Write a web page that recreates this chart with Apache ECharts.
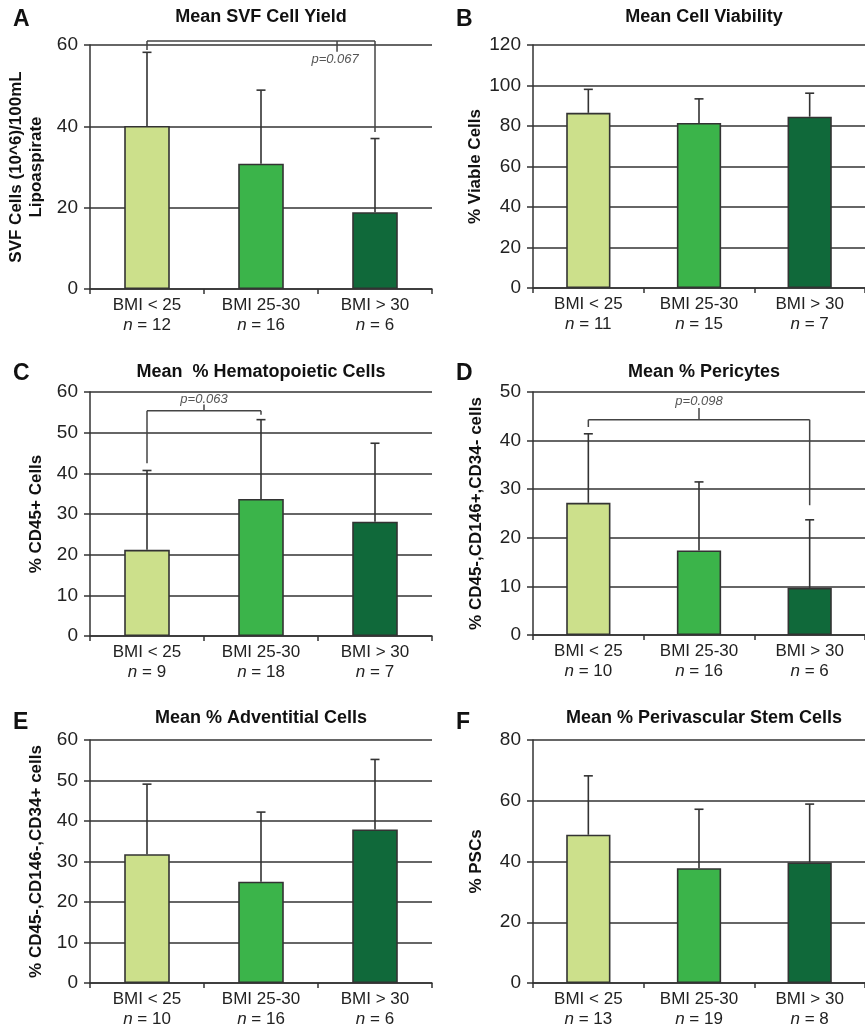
<!DOCTYPE html>
<html>
<head>
<meta charset="utf-8">
<script src="https://cdn.jsdelivr.net/npm/echarts@6/dist/echarts.min.js"></script>
<style>html,body{margin:0;padding:0;background:#fff}#c{width:865px;height:1031px}</style>
</head>
<body>
<div id="c"></div>
<script>
// ---- data ----
const categories = ['BMI < 25', 'BMI 25-30', 'BMI > 30'];
const barColors = ['#cce08b', '#3bb44a', '#10693a'];

const svfMean = [40.1, 30.8, 18.9];
const svfUpper = [58.2, 48.9, 37.0];
const svfN = [12, 16, 6];

const viabMean = [86.5, 81.5, 84.6];
const viabUpper = [98.1, 93.4, 96.2];
const viabN = [11, 15, 7];

const hemMean = [21.2, 33.7, 28.1];
const hemUpper = [40.7, 53.2, 47.4];
const hemN = [9, 18, 7];

const periMean = [27.2, 17.4, 9.7];
const periUpper = [41.4, 31.5, 23.7];
const periN = [10, 16, 6];

const advMean = [31.8, 25.0, 37.9];
const advUpper = [49.1, 42.2, 55.2];
const advN = [10, 16, 6];

const pscMean = [48.8, 37.8, 39.7];
const pscUpper = [68.2, 57.2, 58.9];
const pscN = [13, 19, 8];

// significance brackets: segments [x1, y1, x2, y2] in axis units
const bracketA = [[0, 58.8, 0, 61], [0, 61, 2, 61], [2, 61, 2, 38.6], [1.667, 61, 1.667, 58.35]];
const pLabelA = ['p=0.067', 1.65, 56.4];
const bracketC = [[0, 42.5, 0, 55.4], [0, 55.4, 1, 55.4], [1, 55.4, 1, 54.4], [0.5, 55.4, 0.5, 56.9]];
const pLabelC = ['p=0.063', 0.5, 58.3];
const bracketD = [[0, 42.8, 0, 44.3], [0, 44.3, 2, 44.3], [2, 44.3, 2, 26.7], [1, 44.3, 1, 46.7]];
const pLabelD = ['p=0.098', 1, 48.1];

// ---- layout ----
const FONT = "'Liberation Sans', Arial, Helvetica, sans-serif";
const panels = [
  {letter: 'A', title: 'Mean SVF Cell Yield', yName: 'SVF Cells (10^6)/100mL\nLipoaspirate', mean: svfMean, upper: svfUpper, n: svfN, max: 60, interval: 20, left: 90, top: 45, height: 244, nameGap: 44, bracket: bracketA, pl: pLabelA, ty: 17, ly: 20},
  {letter: 'B', title: 'Mean Cell Viability', yName: '% Viable Cells', mean: viabMean, upper: viabUpper, n: viabN, max: 120, interval: 20, left: 533, top: 45, height: 243, nameGap: 47, ty: 17, ly: 20},
  {letter: 'C', title: 'Mean  % Hematopoietic Cells', yName: '% CD45+ Cells', mean: hemMean, upper: hemUpper, n: hemN, max: 60, interval: 10, left: 90, top: 392, height: 244, nameGap: 44, bracket: bracketC, pl: pLabelC, ty: 372, ly: 374},
  {letter: 'D', title: 'Mean % Pericytes', yName: '% CD45-,CD146+,CD34- cells', mean: periMean, upper: periUpper, n: periN, max: 50, interval: 10, left: 533, top: 392, height: 243, nameGap: 47, bracket: bracketD, pl: pLabelD, ty: 372, ly: 374},
  {letter: 'E', title: 'Mean % Adventitial Cells', yName: '% CD45-,CD146-,CD34+ cells', mean: advMean, upper: advUpper, n: advN, max: 60, interval: 10, left: 90, top: 740, height: 243, nameGap: 44, ty: 718, ly: 723},
  {letter: 'F', title: 'Mean % Perivascular Stem Cells', yName: '% PSCs', mean: pscMean, upper: pscUpper, n: pscN, max: 80, interval: 20, left: 533, top: 740, height: 243, nameGap: 47, ty: 718, ly: 723}
];
const GW = 342;

function coordAt(api, x, y) {
  const i = Math.floor(x);
  const a = api.coord([i, y]);
  if (x === i) return a;
  const b = api.coord([i + 1, y]);
  return [a[0] + (b[0] - a[0]) * (x - i), a[1]];
}

const grid = [], xAxis = [], yAxis = [], series = [], graphic = [];
panels.forEach((p, k) => {
  grid.push({left: p.left, top: p.top, width: GW, height: p.height});
  xAxis.push({
    type: 'category', gridIndex: k, data: categories,
    axisLine: {lineStyle: {color: '#333', width: 1.5}},
    axisTick: {show: true, length: 5, lineStyle: {color: '#333', width: 1.5}},
    axisLabel: {
      margin: 6, interval: 0,
      formatter: (v, i) => v + '\n{i|n} = ' + p.n[i],
      fontFamily: FONT, fontSize: 17, color: '#222', lineHeight: 20,
      rich: {i: {fontStyle: 'italic', fontFamily: FONT, fontSize: 17, color: '#222', lineHeight: 20}}
    }
  });
  yAxis.push({
    type: 'value', gridIndex: k, min: 0, max: p.max, interval: p.interval,
    name: p.yName, nameLocation: 'middle', nameGap: p.nameGap,
    nameTextStyle: {fontFamily: FONT, fontSize: 17, fontWeight: 'bold', color: '#111', lineHeight: 20},
    axisLine: {show: true, lineStyle: {color: '#333', width: 1.5}},
    axisTick: {show: true, length: 6, lineStyle: {color: '#333', width: 1.5}},
    axisLabel: {margin: 12, fontFamily: FONT, fontSize: 19, color: '#222'},
    splitLine: {show: true, lineStyle: {color: '#333', width: 1.6}}
  });
  series.push({
    type: 'bar', xAxisIndex: k, yAxisIndex: k, barWidth: '40%',
    data: p.mean.map((v, i) => ({value: v, itemStyle: {color: barColors[i]}})),
    itemStyle: {borderColor: '#333', borderWidth: 1.6},
    z: 3
  });
  series.push({
    type: 'custom', xAxisIndex: k, yAxisIndex: k, z: 4,
    data: p.mean.map((v, i) => [i, v, p.upper[i]]),
    renderItem: function (params, api) {
      const x = api.value(0);
      const a = api.coord([x, api.value(1)]);
      const b = api.coord([x, api.value(2)]);
      return {type: 'group', children: [
        {type: 'line', shape: {x1: a[0], y1: a[1], x2: b[0], y2: b[1]}, style: {stroke: '#333', lineWidth: 1.6}},
        {type: 'line', shape: {x1: b[0] - 4.5, y1: b[1], x2: b[0] + 4.5, y2: b[1]}, style: {stroke: '#333', lineWidth: 1.6}}
      ]};
    }
  });
  if (p.bracket) {
    series.push({
      type: 'custom', xAxisIndex: k, yAxisIndex: k, z: 5, clip: false,
      data: p.bracket,
      renderItem: function (params, api) {
        const a = coordAt(api, api.value(0), api.value(1));
        const b = coordAt(api, api.value(2), api.value(3));
        return {type: 'line', shape: {x1: a[0], y1: a[1], x2: b[0], y2: b[1]}, style: {stroke: '#444', lineWidth: 1.5}};
      }
    });
    series.push({
      type: 'custom', xAxisIndex: k, yAxisIndex: k, z: 5, clip: false,
      data: [[p.pl[1], p.pl[2]]],
      renderItem: function (params, api) {
        const c = coordAt(api, api.value(0), api.value(1));
        return {type: 'text', x: c[0], y: c[1], style: {text: p.pl[0], fontFamily: FONT, fontSize: 13, fontStyle: 'italic', fill: '#555', align: 'center', verticalAlign: 'middle'}};
      }
    });
  }
  graphic.push({type: 'text', x: p.left - 77, y: p.ly, style: {text: p.letter, fontFamily: FONT, fontSize: 23, fontWeight: 'bold', fill: '#111', align: 'left', verticalAlign: 'middle'}});
  graphic.push({type: 'text', x: p.left + GW / 2, y: p.ty, style: {text: p.title, fontFamily: FONT, fontSize: 18, fontWeight: 'bold', fill: '#111', align: 'center', verticalAlign: 'middle'}});
});

const chart = echarts.init(document.getElementById('c'), null, {renderer: 'canvas'});
chart.setOption({
  animation: false,
  backgroundColor: '#fff',
  grid, xAxis, yAxis, series, graphic
});
</script>
</body>
</html>
